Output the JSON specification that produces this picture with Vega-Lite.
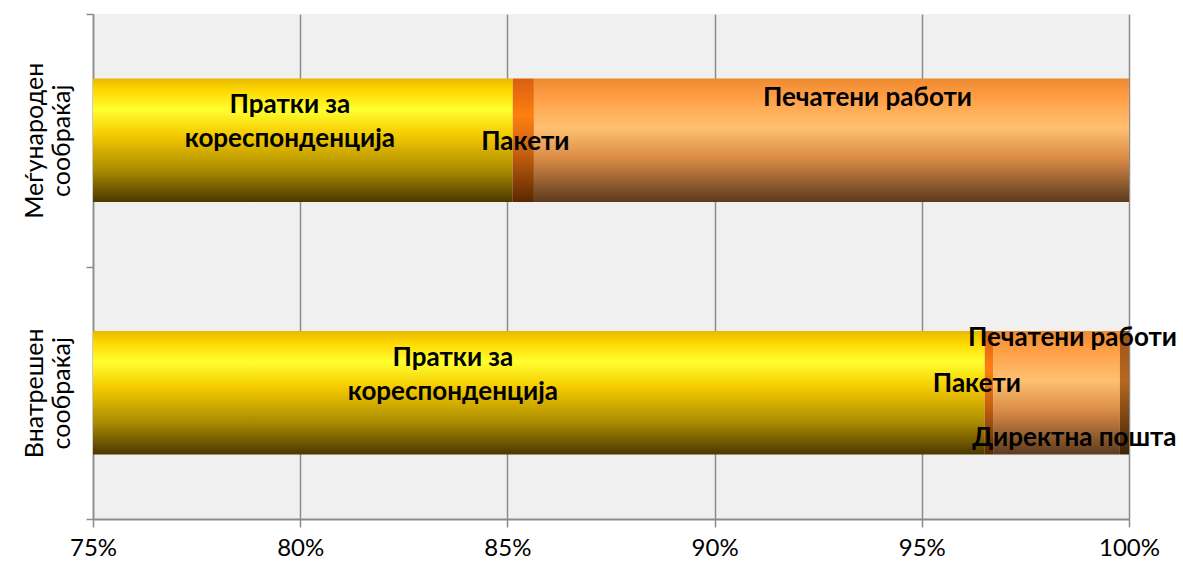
{
  "$schema": "https://vega.github.io/schema/vega-lite/v6.json",
  "width": 1036,
  "height": 505,
  "autosize": {"type": "none"},
  "padding": {"left": 93, "top": 14, "right": 54, "bottom": 46},
  "background": "white",
  "config": {
    "view": {"fill": "#F0F0F0", "stroke": null},
    "font": "Lato, 'Open Sans', sans-serif",
    "text": {"font": "Lato, 'Open Sans', sans-serif"}
  },
  "data": {
    "values": [
      {"traffic": "Меѓународен сообраќај", "category": "Пратки за кореспонденција", "share": 0.8513, "order": 1},
      {"traffic": "Меѓународен сообраќај", "category": "Пакети", "share": 0.0051, "order": 2},
      {"traffic": "Меѓународен сообраќај", "category": "Печатени работи", "share": 0.1436, "order": 3},
      {"traffic": "Внатрешен сообраќај", "category": "Пратки за кореспонденција", "share": 0.9652, "order": 1},
      {"traffic": "Внатрешен сообраќај", "category": "Пакети", "share": 0.0020, "order": 2},
      {"traffic": "Внатрешен сообраќај", "category": "Печатени работи", "share": 0.0306, "order": 3},
      {"traffic": "Внатрешен сообраќај", "category": "Директна пошта", "share": 0.0022, "order": 4}
    ]
  },
  "transform": [
    {"stack": "share", "groupby": ["traffic"], "sort": [{"field": "order", "order": "ascending"}], "as": ["x0", "x1"]},
    {"calculate": "(max(datum.x0, 0.75) + datum.x1) / 2", "as": "mid"},
    {"calculate": "replace(datum.category, 'за ', 'за\\n')", "as": "lbl"}
  ],
  "encoding": {
    "y": {
      "field": "traffic",
      "type": "nominal",
      "sort": ["Меѓународен сообраќај", "Внатрешен сообраќај"],
      "scale": {"paddingInner": 0, "paddingOuter": 0},
      "axis": {
        "title": null,
        "ticks": true,
        "tickBand": "extent",
        "tickSize": 7,
        "tickWidth": 1.5,
        "tickColor": "#8c8c8c",
        "domainColor": "#8c8c8c",
        "domainWidth": 1.5,
        "labelAngle": 270,
        "labelAlign": "center",
        "labelBaseline": "bottom",
        "labelFontSize": 25,
        "labelColor": "#000000",
        "labelPadding": 39,
        "labelLineHeight": 27,
        "labelExpr": "split(datum.label, ' ')"
      }
    }
  },
  "layer": [
    {
      "transform": [{"filter": "datum.category == 'Пратки за кореспонденција'"}],
      "mark": {
        "type": "bar",
        "clip": true,
        "height": {"band": 0.49},
        "color": {
          "gradient": "linear", "x1": 0, "y1": 0, "x2": 0, "y2": 1,
          "stops": [
            {"offset": 0, "color": "#E8B800"},
            {"offset": 0.1, "color": "#FFD800"},
            {"offset": 0.25, "color": "#FFFF30"},
            {"offset": 0.45, "color": "#F5CC00"},
            {"offset": 0.75, "color": "#A88800"},
            {"offset": 1, "color": "#4A3800"}
          ]
        }
      },
      "encoding": {
        "x": {
          "field": "x0", "type": "quantitative",
          "scale": {"domain": [0.75, 1], "nice": false, "zero": false},
          "axis": {
            "title": null,
            "values": [0.75, 0.8, 0.85, 0.9, 0.95, 1],
            "format": ".0%",
            "grid": true,
            "gridColor": "#8c8c8c",
            "gridWidth": 1.5,
            "domainColor": "#8c8c8c",
            "domainWidth": 2,
            "tickColor": "#8c8c8c",
            "tickSize": 8,
            "tickWidth": 1.5,
            "labelFlush": false,
            "labelFontSize": 24,
            "labelColor": "#000000",
            "labelPadding": 9,
            "labelFont": "Lato, 'Open Sans', sans-serif"
          }
        },
        "x2": {"field": "x1"}
      }
    },
    {
      "transform": [{"filter": "datum.category == 'Пакети'"}],
      "mark": {
        "type": "bar",
        "clip": true,
        "height": {"band": 0.49},
        "color": {
          "gradient": "linear", "x1": 0, "y1": 0, "x2": 0, "y2": 1,
          "stops": [
            {"offset": 0, "color": "#D86010"},
            {"offset": 0.3, "color": "#FF7F10"},
            {"offset": 0.6, "color": "#C86010"},
            {"offset": 1, "color": "#5A2800"}
          ]
        }
      },
      "encoding": {"x": {"field": "x0", "type": "quantitative"}, "x2": {"field": "x1"}}
    },
    {
      "transform": [{"filter": "datum.category == 'Печатени работи'"}],
      "mark": {
        "type": "bar",
        "clip": true,
        "height": {"band": 0.49},
        "color": {
          "gradient": "linear", "x1": 0, "y1": 0, "x2": 0, "y2": 1,
          "stops": [
            {"offset": 0, "color": "#EE8A30"},
            {"offset": 0.15, "color": "#FF9E45"},
            {"offset": 0.4, "color": "#FFC070"},
            {"offset": 0.65, "color": "#D88A45"},
            {"offset": 1, "color": "#5C3A1E"}
          ]
        }
      },
      "encoding": {"x": {"field": "x0", "type": "quantitative"}, "x2": {"field": "x1"}}
    },
    {
      "transform": [{"filter": "datum.category == 'Директна пошта'"}],
      "mark": {
        "type": "bar",
        "clip": true,
        "height": {"band": 0.49},
        "color": {
          "gradient": "linear", "x1": 0, "y1": 0, "x2": 0, "y2": 1,
          "stops": [
            {"offset": 0, "color": "#9A5418"},
            {"offset": 0.4, "color": "#B8681E"},
            {"offset": 1, "color": "#3E2208"}
          ]
        }
      },
      "encoding": {"x": {"field": "x0", "type": "quantitative"}, "x2": {"field": "x1"}}
    },
    {
      "transform": [{"filter": "datum.traffic == 'Меѓународен сообраќај' && datum.category == 'Пратки за кореспонденција'"}],
      "mark": {"type": "text", "fontSize": 26, "fontWeight": "bold", "lineBreak": "\n", "lineHeight": 34, "dx": -13, "dy": -35, "color": "#000000"},
      "encoding": {"x": {"field": "mid", "type": "quantitative"}, "text": {"field": "lbl"}}
    },
    {
      "transform": [{"filter": "datum.traffic == 'Меѓународен сообраќај' && datum.category == 'Пакети'"}],
      "mark": {"type": "text", "fontSize": 26, "fontWeight": "bold", "dx": 2, "dy": 2, "color": "#000000"},
      "encoding": {"x": {"field": "mid", "type": "quantitative"}, "text": {"field": "category"}}
    },
    {
      "transform": [{"filter": "datum.traffic == 'Меѓународен сообраќај' && datum.category == 'Печатени работи'"}],
      "mark": {"type": "text", "fontSize": 26, "fontWeight": "bold", "dx": 36, "dy": -42, "color": "#000000"},
      "encoding": {"x": {"field": "mid", "type": "quantitative"}, "text": {"field": "category"}}
    },
    {
      "transform": [{"filter": "datum.traffic == 'Внатрешен сообраќај' && datum.category == 'Пратки за кореспонденција'"}],
      "mark": {"type": "text", "fontSize": 26, "fontWeight": "bold", "lineBreak": "\n", "lineHeight": 34, "dx": -86, "dy": -35, "color": "#000000"},
      "encoding": {"x": {"field": "mid", "type": "quantitative"}, "text": {"field": "lbl"}}
    },
    {
      "transform": [{"filter": "datum.traffic == 'Внатрешен сообраќај' && datum.category == 'Пакети'"}],
      "mark": {"type": "text", "fontSize": 26, "fontWeight": "bold", "dx": -12, "dy": -9, "color": "#000000"},
      "encoding": {"x": {"field": "mid", "type": "quantitative"}, "text": {"field": "category"}}
    },
    {
      "transform": [{"filter": "datum.traffic == 'Внатрешен сообраќај' && datum.category == 'Печатени работи'"}],
      "mark": {"type": "text", "fontSize": 26, "fontWeight": "bold", "dx": 16, "dy": -55, "color": "#000000"},
      "encoding": {"x": {"field": "mid", "type": "quantitative"}, "text": {"field": "category"}}
    },
    {
      "transform": [{"filter": "datum.traffic == 'Внатрешен сообраќај' && datum.category == 'Директна пошта'"}],
      "mark": {"type": "text", "fontSize": 26, "fontWeight": "bold", "dx": -50, "dy": 45, "color": "#000000"},
      "encoding": {"x": {"field": "mid", "type": "quantitative"}, "text": {"field": "category"}}
    }
  ]
}
